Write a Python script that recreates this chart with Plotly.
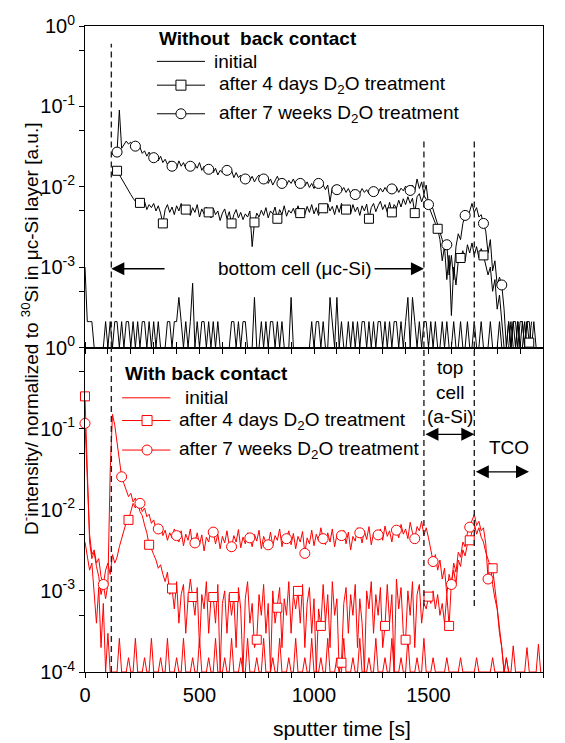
import plotly.graph_objects as go

# ---------------- data (sputter time grid, 10 s) ----------------
time_s = list(range(0, 2001, 10))

# Top panel: without back contact
top_initial = [
    1e-3, 2.1e-4, 2.1e-4, 2.1e-4, 1e-4, 1e-4, 1e-4, 1e-4, 1e-4, 2.1e-4,
    1e-4, 2.1e-4, 1e-4, 2.1e-4, 2.1e-4, 1e-4, 2.1e-4, 1e-4, 2.1e-4, 2.1e-4,
    1e-4, 2.1e-4, 1e-4, 2.1e-4, 1e-4, 2.1e-4, 2.1e-4, 1e-4, 2.1e-4, 1e-4,
    2.1e-4, 1e-4, 2.1e-4, 1e-4, 1e-4, 1e-4, 2.1e-4, 2.1e-4, 1e-4, 2.1e-4,
    2.1e-4, 4.2e-4, 2.1e-4, 1e-4, 2.1e-4, 1e-4, 2.1e-4, 6.3e-4, 1e-4, 2.1e-4,
    1e-4, 2.1e-4, 2.1e-4, 1e-4, 2.1e-4, 1e-4, 2.1e-4, 1e-4, 2.1e-4, 1e-4,
    1e-4, 1e-4, 1e-4, 1e-4, 2.1e-4, 2.1e-4, 1e-4, 2.1e-4, 1e-4, 2.1e-4,
    2.1e-4, 1e-4, 1e-4, 1e-4, 4.2e-4, 1e-4, 1e-4, 2.1e-4, 1e-4, 2.1e-4,
    1e-4, 2.1e-4, 2.1e-4, 1e-4, 2.1e-4, 1e-4, 2.1e-4, 1e-4, 1e-4, 1e-4,
    4.2e-4, 1e-4, 1e-4, 1e-4, 1e-4, 1e-4, 1e-4, 1e-4, 1e-4, 2.1e-4,
    1e-4, 2.1e-4, 2.1e-4, 1e-4, 2.1e-4, 1e-4, 1e-4, 4.2e-4, 2.1e-4, 1e-4,
    4.2e-4, 1e-4, 2.1e-4, 1e-4, 1e-4, 2.1e-4, 1e-4, 2.1e-4, 1e-4, 2.1e-4,
    1e-4, 2.1e-4, 2.1e-4, 1e-4, 2.1e-4, 1e-4, 2.1e-4, 1e-4, 2.1e-4, 2.1e-4,
    1e-4, 2.1e-4, 1e-4, 2.1e-4, 1e-4, 2.1e-4, 2.1e-4, 1e-4, 2.1e-4, 1e-4,
    2.1e-4, 4.2e-4, 1e-4, 4.2e-4, 2.1e-4, 1e-4, 2.1e-4, 1e-4, 2.1e-4, 2.1e-4,
    1e-4, 2.1e-4, 1e-4, 2.1e-4, 1e-4, 1e-4, 2.1e-4, 1e-4, 2.1e-4, 1e-4,
    1e-4, 2.1e-4, 1e-4, 1e-4, 2.1e-4, 1e-4, 1e-4, 2.1e-4, 1e-4, 1e-4,
    2.1e-4, 1e-4, 1e-4, 2.1e-4, 1e-4, 1e-4, 1e-4, 2.1e-4, 1e-4, 1e-4,
    1e-4, 2.1e-4, 1e-4, 1e-4, 1e-4, 2.1e-4, 1e-4, 2.1e-4, 2.1e-4, 1e-4,
    2.1e-4, 2.1e-4, 1e-4, 2.1e-4, 2.1e-4, 1e-4, 2.1e-4, 1e-4, 1e-4, None,
    None,
]

top_4days = [
    None, None, None, None, None, None, None, None, None, None,
    None, None, None, None, 0.0158, 0.0140, 0.0125, 0.0112, 0.0098, 0.0088,
    0.0080, 0.0072, 0.0066, 0.0070, 0.0063, 0.0058, 0.0066, 0.0052, 0.0060, 0.0055,
    0.0062, 0.0050, 0.0058, 0.0047, 0.0035, 0.0052, 0.0060, 0.0048, 0.0056, 0.0045,
    0.0058, 0.0050, 0.0062, 0.0046, 0.0052, 0.0057, 0.0044, 0.0055, 0.0048, 0.0060,
    0.0042, 0.0053, 0.0046, 0.0056, 0.0048, 0.0041, 0.0054, 0.0045, 0.0050, 0.0038,
    0.0047, 0.0053, 0.0040, 0.0049, 0.0035, 0.0045, 0.0052, 0.0041, 0.0048, 0.0039,
    0.0046, 0.0042, 0.0050, 0.0018, 0.0036, 0.0047, 0.0042, 0.0051, 0.0044, 0.0055,
    0.0041, 0.0050, 0.0046, 0.0056, 0.0040, 0.0052, 0.0045, 0.0058, 0.0043, 0.0051,
    0.0047, 0.0054, 0.0044, 0.0058, 0.0047, 0.0052, 0.0045, 0.0057, 0.0048, 0.0060,
    0.0046, 0.0055, 0.0044, 0.0058, 0.0054, 0.0047, 0.0061, 0.0050, 0.0057, 0.0045,
    0.0059, 0.0048, 0.0062, 0.0051, 0.0052, 0.0058, 0.0046, 0.0060, 0.0049, 0.0056,
    0.0044, 0.0058, 0.0050, 0.0061, 0.0040, 0.0055, 0.0062, 0.0049, 0.0058, 0.0066,
    0.0052, 0.0060, 0.0048, 0.0064, 0.0048, 0.0060, 0.0054, 0.0068, 0.0056, 0.0071,
    0.0060, 0.0075, 0.0062, 0.0072, 0.0047, 0.0075, 0.0082, 0.0065, 0.0078, 0.0070,
    0.0058, 0.0048, 0.0042, 0.0035, 0.0030, 0.0022, 0.0012, 0.0018, 0.0007, 0.0014,
    0.00025, 0.0010, 0.0006, 0.0012, 0.0013, 0.0016, 0.0012, 0.0019, 0.0015, 0.0020,
    0.0014, 0.0018, 0.0013, 0.0017, 0.0014, 0.0011, 0.0008, 0.0010, 0.0005, 0.0007,
    0.0003, 0.00045, 0.0002, 0.0001, 0.0001, 0.00021, 0.0001, 0.00021, 0.0001, 0.00021,
    0.0001, 0.00021, 0.0001, 0.00021, 0.000115, 0.00021, None, None, None, None,
    None,
]

top_7weeks = [
    None, None, None, None, None, None, None, None, None, None,
    None, None, 0.025, 0.028, 0.027, 0.09, 0.030, 0.033, 0.037, 0.034,
    0.036, 0.031, 0.032, 0.029, 0.031, 0.026, 0.028, 0.024, 0.027, 0.023,
    0.023, 0.025, 0.021, 0.024, 0.020, 0.022, 0.019, 0.021, 0.018, 0.020,
    0.017, 0.021, 0.018, 0.020, 0.017, 0.019, 0.018, 0.016, 0.019, 0.017,
    0.020, 0.016, 0.018, 0.015, 0.0165, 0.018, 0.015, 0.017, 0.014, 0.016,
    0.015, 0.017, 0.016, 0.014, 0.016, 0.013, 0.015, 0.013, 0.014, 0.012,
    0.0125, 0.014, 0.012, 0.0135, 0.0115, 0.013, 0.014, 0.0115, 0.0125, 0.013,
    0.011, 0.0125, 0.0105, 0.012, 0.0135, 0.0115, 0.011, 0.0125, 0.0105, 0.012,
    0.011, 0.0125, 0.0105, 0.012, 0.011, 0.0118, 0.0102, 0.0115, 0.0098, 0.011,
    0.0095, 0.0108, 0.011, 0.0098, 0.0105, 0.0092, 0.0105, 0.0065, 0.0098, 0.0105,
    0.0092, 0.0102, 0.0088, 0.0098, 0.0085, 0.0095, 0.0082, 0.0092, 0.0080, 0.0090,
    0.0083, 0.0095, 0.0085, 0.0092, 0.0082, 0.0094, 0.0087, 0.0093, 0.0084, 0.0096,
    0.0086, 0.0098, 0.0088, 0.0095, 0.0094, 0.0088, 0.0099, 0.0085, 0.0096, 0.0089,
    0.0102, 0.0092, 0.0090, 0.0105, 0.0088, 0.0125, 0.0095, 0.0115, 0.0082, 0.0105,
    0.0060, 0.0065, 0.0052, 0.0042, 0.0033, 0.0028, 0.0022, 0.0016, 0.0019, 0.0008,
    0.0014, 0.0007, 0.0018, 0.0026, 0.0022, 0.0035, 0.0044, 0.0040, 0.0052, 0.0062,
    0.0048, 0.0055, 0.0042, 0.0045, 0.0035, 0.0028, 0.0015, 0.0022, 0.0009, 0.0012,
    0.0006, 0.00075, 0.0006, 0.0003, 0.0001, 0.0001, 0.00021, 0.0001, 0.0001, 0.00021,
    0.0001, 0.0001, 0.00021, 0.0001, 0.0001, None, None, None, None, None,
    None,
]

# Bottom panel: with back contact
bot_initial = [
    0.004, 0.0025, 0.0018, 0.0022, 0.0009, 0.0004, 0.0011, 0.0002, 0.0007, 1e-4,
    3e-4, 1e-4, 1e-4, 1e-4, 1e-4, 2.6e-4, 1e-4, 1e-4, 1e-4, 1.5e-4,
    1e-4, 1e-4, 2.6e-4, 1e-4, 1e-4, 1e-4, 1.5e-4, 1e-4, 1e-4, 2.6e-4,
    1e-4, 1e-4, 1e-4, 1.5e-4, 1e-4, 1e-4, 2.6e-4, 1e-4, 1e-4, 1e-4,
    1.5e-4, 1e-4, 1e-4, 2.6e-4, 1e-4, 1e-4, 1e-4, 1.5e-4, 1e-4, 1e-4,
    2.6e-4, 1e-4, 1e-4, 1e-4, 1.5e-4, 1e-4, 1e-4, 2.6e-4, 1e-4, 1e-4,
    1e-4, 1.5e-4, 1e-4, 1e-4, 2.6e-4, 1e-4, 1e-4, 1e-4, 1.5e-4, 1e-4,
    1e-4, 2.6e-4, 1e-4, 1e-4, 1e-4, 1.5e-4, 1e-4, 1e-4, 2.6e-4, 1e-4,
    1e-4, 1e-4, 1.5e-4, 1e-4, 1e-4, 2.6e-4, 1e-4, 1e-4, 1e-4, 1.5e-4,
    1e-4, 1e-4, 2.6e-4, 1e-4, 1e-4, 1e-4, 1.5e-4, 1e-4, 1e-4, 2.6e-4,
    1e-4, 1e-4, 1e-4, 1.5e-4, 1e-4, 1e-4, 2.6e-4, 1e-4, 1e-4, 1e-4,
    1.5e-4, 1e-4, 1e-4, 2.6e-4, 1e-4, 1e-4, 1e-4, 1.5e-4, 1e-4, 1e-4,
    2.6e-4, 1e-4, 1e-4, 1e-4, 1.5e-4, 1e-4, 1e-4, 2.6e-4, 1e-4, 1e-4,
    1e-4, 1.5e-4, 1e-4, 1e-4, 2.6e-4, 1e-4, 1e-4, 1e-4, 1.5e-4, 1e-4,
    1e-4, 2.6e-4, 1e-4, 1e-4, 1e-4, 1.5e-4, 1e-4, 1e-4, 2.6e-4, 1e-4,
    1e-4, 1e-4, 1.5e-4, 1e-4, 1e-4, 1e-4, 1e-4, 1e-4, 1.5e-4, 1e-4,
    1e-4, 1e-4, 1e-4, 1e-4, 1.5e-4, 1e-4, 1e-4, 1e-4, 1e-4, 1e-4,
    1e-4, 1.5e-4, 1e-4, 1e-4, 1e-4, 1e-4, 1e-4, 1e-4, 1.5e-4, 1e-4,
    1e-4, 1e-4, 1e-4, 1e-4, 1e-4, 1e-4, 1e-4, 2.1e-4, 1e-4, 1e-4,
    1e-4, 1e-4, 1e-4, 2e-4, 1e-4, 1e-4, 1e-4, 1e-4, 2.2e-4, 1e-4,
    None,
]

bot_4days = [
    0.25, 0.03, 0.004, 0.0025, 0.003, 0.002, 0.0015, 0.0009, 0.0012, 0.0018,
    0.0022, 0.0016, 0.0028, 0.0022, 0.0026, 0.0035, 0.0045, 0.0058, 0.0070, 0.0075,
    0.0095, 0.012, 0.0105, 0.0125, 0.0095, 0.0085, 0.0065, 0.0052, 0.0037, 0.0033,
    0.0028, 0.0024, 0.0019, 0.0021, 0.0016, 0.0013, 0.0017, 0.0009, 0.00107, 0.0006,
    0.0013, 0.0004, 0.0009, 0.0012, 0.0003, 0.0008, 0.0014, 0.00084, 0.0005, 0.0011,
    0.0002, 0.0009, 0.0006, 0.0013, 0.0003, 0.0008, 0.00084, 0.0004, 0.0012, 0.0001,
    0.0007, 0.0010, 0.0003, 0.0009, 0.0005, 0.00084, 0.0002, 0.0011, 0.0006, 0.0001,
    0.0008, 0.0013, 0.0004, 0.0007, 0.0002, 0.00025, 0.0009, 0.0005, 0.0012, 0.0003,
    0.0007, 0.0001, 0.0010, 0.0004, 0.00062, 0.0011, 0.0002, 0.0008, 0.0005, 0.0013,
    0.0003, 0.0009, 0.0006, 0.0010, 0.0004, 0.0012, 0.0002, 0.0007, 0.0011, 0.0003,
    0.0008, 0.0001, 0.0006, 0.00037, 0.0012, 0.0004, 0.0009, 0.0002, 0.0013, 0.0005,
    0.0008, 0.0001, 0.00013, 0.0007, 0.0011, 0.0003, 0.0009, 0.0005, 0.0012, 0.0002,
    0.0008, 0.0004, 0.0001, 0.0010, 0.0006, 0.0013, 0.0003, 0.0009, 0.0005, 0.0011,
    0.0002, 0.00037, 0.0012, 0.0004, 0.0009, 0.0001, 0.0014, 0.0006, 0.0011, 0.0003,
    0.00025, 0.0010, 0.0005, 0.0013, 0.0002, 0.0009, 0.0012, 0.0004, 0.0007, 0.0006,
    0.00085, 0.0007, 0.0010, 0.0006, 0.0009, 0.0005, 0.0007, 0.0004, 0.0009, 0.00037,
    0.0013, 0.0018, 0.0012, 0.0024, 0.0020, 0.0032, 0.0027, 0.0038, 0.0042, 0.0055,
    0.0068, 0.0050, 0.0060, 0.0046, 0.0040, 0.0030, 0.0024, 0.0020, 0.0019, 0.0011,
    0.0007, 0.0004, 0.0002, 0.0001, 0.00015, 0.0001, None, None, None, None,
    None, None, None, None, None, None, None, None, None, None,
    None,
]

bot_7weeks = [
    0.116, 0.02, 0.005, 0.0028, 0.0032, 0.0022, 0.0025, 0.0015, 0.0012, 0.0008,
    0.0012, 0.03, 0.15, 0.11, 0.07, 0.04, 0.0255, 0.021, 0.017, 0.0145,
    0.016, 0.0125, 0.014, 0.0115, 0.012, 0.0095, 0.0105, 0.0082, 0.0088, 0.0068,
    0.0075, 0.0058, 0.0058, 0.0065, 0.0048, 0.0056, 0.0042, 0.0052, 0.0045, 0.0058,
    0.0048, 0.0040, 0.0055, 0.0036, 0.0050, 0.0042, 0.0058, 0.0035, 0.0039, 0.0052,
    0.0037, 0.0049, 0.0031, 0.0046, 0.0040, 0.0056, 0.0053, 0.0038, 0.0050, 0.0033,
    0.0047, 0.0039, 0.0055, 0.0036, 0.0035, 0.0048, 0.0040, 0.0057, 0.0034, 0.0046,
    0.0038, 0.0052, 0.0045, 0.0035, 0.0050, 0.0041, 0.0056, 0.0033, 0.0047, 0.0039,
    0.0037, 0.0053, 0.0036, 0.0048, 0.0042, 0.0058, 0.0035, 0.0049, 0.0044, 0.0055,
    0.0037, 0.0051, 0.0033, 0.0047, 0.0040, 0.0054, 0.0029, 0.0045, 0.0038, 0.0056,
    0.0036, 0.0050, 0.0041, 0.0060, 0.0044, 0.0037, 0.0052, 0.0040, 0.0058, 0.0035,
    0.0049, 0.0043, 0.0048, 0.0056, 0.0038, 0.0053, 0.0032, 0.0047, 0.0041, 0.0060,
    0.0052, 0.0039, 0.0055, 0.0043, 0.0062, 0.0037, 0.0051, 0.0045, 0.0049, 0.0058,
    0.0042, 0.0063, 0.0047, 0.0055, 0.0040, 0.0060, 0.0056, 0.0045, 0.0066, 0.0050,
    0.0058, 0.0044, 0.0070, 0.0052, 0.0044, 0.0062, 0.0055, 0.0072, 0.0048, 0.0060,
    0.0045, 0.0032, 0.0023, 0.0028, 0.0018, 0.0024, 0.0014, 0.0019, 0.0009, 0.0016,
    0.0012, 0.0022, 0.0017, 0.0030, 0.0026, 0.0040, 0.0035, 0.0052, 0.0061, 0.0072,
    0.0088, 0.0064, 0.0072, 0.0055, 0.0060, 0.0038, 0.0014, 0.0022, 0.0012, 0.0008,
    0.0006, 0.0003, 0.0002, 0.0001, 0.00015, 0.0001, None, None, None, None,
    None, None, None, None, None, None, None, None, None, None,
    None,
]

# times at which the symbols are drawn
top_square_times = [140, 240, 340, 440, 540, 640, 740, 840, 940, 1040, 1140,
                    1240, 1340, 1440, 1540, 1640, 1740, 1940]
top_circle_times = [140, 220, 300, 380, 460, 540, 620, 700, 780, 860, 940,
                    1020, 1100, 1180, 1260, 1340, 1420, 1500, 1580, 1660,
                    1740, 1820]
bot_square_times = [0, 190, 280, 380, 470, 560, 650, 750, 840, 930, 1030,
                    1120, 1310, 1400, 1500, 1590, 1680, 1780]
bot_circle_times = [0, 80, 160, 240, 320, 400, 480, 560, 640, 720, 800, 880,
                    960, 1040, 1120, 1200, 1280, 1360, 1440, 1520, 1600,
                    1680, 1760]

# layer interfaces (s)
interface_times = [115, 1480, 1700]

x_tickvals = [0, 500, 1000, 1500, 2000]
bot_y_tickvals = [1e-4, 1e-3, 1e-2, 1e-1, 1]
bot_y_ticktext = ["10<sup>-4</sup>", "10<sup>-3</sup>", "10<sup>-2</sup>",
                  "10<sup>-1</sup>", "10<sup>0</sup>"]
top_y_tickvals = [1e-3, 1e-2, 1e-1, 1]
top_y_ticktext = ["10<sup>-3</sup>", "10<sup>-2</sup>", "10<sup>-1</sup>",
                  "10<sup>0</sup>"]
minor_y_tickvals = [5e-4, 5e-3, 5e-2, 0.5]

label_initial = "initial"
label_4days = "after 4 days D<sub>2</sub>O treatment"
label_7weeks = "after 7 weeks D<sub>2</sub>O treatment"

# ---------------- figure ----------------
BLACK = "#000000"
RED = "#ff0000"
FONT = "Liberation Sans, Arial, sans-serif"


def pick(series, times):
    return times, [series[time_s.index(t)] for t in times]


fig = go.Figure()


def add_panel(xa, ya, color, s_init, s_4d, s_7w, sq_t, ci_t):
    for s in (s_init, s_4d, s_7w):
        fig.add_trace(go.Scatter(x=time_s, y=s, mode="lines", xaxis=xa, yaxis=ya,
                                 line=dict(color=color, width=1),
                                 hoverinfo="skip", showlegend=False))
    sx, sy = pick(s_4d, sq_t)
    fig.add_trace(go.Scatter(x=sx, y=sy, mode="markers", xaxis=xa, yaxis=ya,
                             marker=dict(symbol="square", size=9, color="white",
                                         line=dict(color=color, width=1)),
                             cliponaxis=False, showlegend=False))
    cx, cy = pick(s_7w, ci_t)
    fig.add_trace(go.Scatter(x=cx, y=cy, mode="markers", xaxis=xa, yaxis=ya,
                             marker=dict(symbol="circle", size=10, color="white",
                                         line=dict(color=color, width=1)),
                             cliponaxis=False, showlegend=False))


add_panel("x2", "y2", BLACK, top_initial, top_4days, top_7weeks,
          top_square_times, top_circle_times)
add_panel("x", "y", RED, bot_initial, bot_4days, bot_7weeks,
          bot_square_times, bot_circle_times)

split = 329 / 655

axis_common = dict(showline=True, linecolor=BLACK, linewidth=1, showgrid=False,
                   zeroline=False, ticks="outside", ticklen=5, tickwidth=1,
                   tickcolor=BLACK, tickfont=dict(size=20, family=FONT, color=BLACK))

fig.update_layout(
    width=565, height=743,
    margin=dict(l=85, r=22, t=17, b=71),
    paper_bgcolor="white", plot_bgcolor="white",
    showlegend=False,
    font=dict(family=FONT, size=19, color=BLACK),
    xaxis=dict(domain=[0, 1], anchor="y", range=[0, 2000], tickvals=x_tickvals,
               mirror="ticks",
               minor=dict(dtick=100, tick0=0, ticks="outside", ticklen=5,
                          tickcolor=BLACK, showgrid=False),
               **axis_common),
    xaxis2=dict(domain=[0, 1], anchor="y2", range=[0, 2000], matches="x",
                tickvals=x_tickvals, showticklabels=False, mirror=True,
                minor=dict(dtick=100, tick0=0, ticks="outside", ticklen=5,
                           tickcolor=BLACK, showgrid=False),
                **axis_common),
    yaxis=dict(domain=[0, split], anchor="x", type="log", range=[-4, 0],
               tickvals=bot_y_tickvals, ticktext=bot_y_ticktext, mirror=True,
               minor=dict(tickvals=minor_y_tickvals, ticks="outside", ticklen=5,
                          tickcolor=BLACK, showgrid=False),
               **axis_common),
    yaxis2=dict(domain=[split, 1], anchor="x2", type="log", range=[-4, 0],
                tickvals=top_y_tickvals, ticktext=top_y_ticktext, mirror=True,
                minor=dict(tickvals=minor_y_tickvals, ticks="outside", ticklen=5,
                           tickcolor=BLACK, showgrid=False),
                **axis_common),
)

# dashed interface lines
dash_style = dict(color="#222222", width=1.4, dash="6px,4px")
top_line_tops = [0.6, 0.041, 0.041]
bot_line_bottoms = [1e-4, 6.5e-4, 6.5e-4]
for t, ytop, ybot in zip(interface_times, top_line_tops, bot_line_bottoms):
    fig.add_shape(type="line", xref="x2", yref="y2", x0=t, x1=t, y0=1e-4, y1=ytop,
                  line=dash_style)
    fig.add_shape(type="line", xref="x", yref="y", x0=t, x1=t, y0=ybot, y1=1,
                  line=dash_style)


def legend_block(xref, yref, color, header, hx, hy, rows, line_x0, line_x1, mark_x):
    fig.add_annotation(xref=xref, yref=yref, x=hx, y=hy, text="<b>" + header + "</b>",
                       showarrow=False, xanchor="left", yanchor="middle",
                       font=dict(size=19, color=BLACK))
    for sym, text, tx, ry in rows:
        fig.add_shape(type="line", xref=xref, yref=yref, x0=line_x0, x1=line_x1,
                      y0=ry, y1=ry, line=dict(color=color, width=1))
        if sym is not None:
            fig.add_shape(type=sym, xref=xref, yref=yref, xsizemode="pixel",
                          ysizemode="pixel", xanchor=mark_x, yanchor=ry,
                          x0=-5, x1=5, y0=-5, y1=5, fillcolor="white",
                          line=dict(color=color, width=1))
        fig.add_annotation(xref=xref, yref=yref, x=tx, y=ry, text=text,
                           showarrow=False, xanchor="left", yanchor="middle",
                           font=dict(size=19, color=BLACK))


legend_block("x2", "y2 domain", BLACK, "Without\u00a0 back contact", 314, 0.960,
             [(None, label_initial, 555, 0.890),
              ("rect", label_4days, 576, 0.816),
              ("circle", label_7weeks, 576, 0.727)],
             314, 524, 419)
legend_block("x", "y domain", RED, "With back contact", 166, 0.921,
             [(None, label_initial, 428, 0.845),
              ("rect", label_4days, 402, 0.775),
              ("circle", label_7weeks, 402, 0.684)],
             162, 373, 271)


def arrow(xref, yref, x_head, x_tail, y, both=False):
    fig.add_annotation(xref=xref, yref=yref, x=x_head, y=y, axref=xref, ax=x_tail,
                       ayref="pixel", ay=0, text="", showarrow=True,
                       arrowhead=2, arrowsize=2.0, arrowwidth=1.3,
                       arrowcolor=BLACK, arrowside="end+start" if both else "end",
                       startarrowhead=2, startarrowsize=2.0)


# top panel region label
fig.add_annotation(xref="x2", yref="y2 domain", x=917, y=0.245,
                   text="bottom cell (\u03bcc-Si)", showarrow=False,
                   xanchor="center", yanchor="middle", font=dict(size=19))
arrow("x2", "y2 domain", 115, 354, 0.245)
arrow("x2", "y2 domain", 1480, 1258, 0.245)

# bottom panel region labels
fig.add_annotation(xref="x", yref="y domain", x=1594, y=0.863,
                   text="top<br>cell<br>(a-Si)", showarrow=False,
                   xanchor="center", yanchor="middle", font=dict(size=19))
arrow("x", "y domain", 1700, 1480, 0.7325, both=True)
fig.add_annotation(xref="x", yref="y domain", x=1852, y=0.693, text="TCO",
                   showarrow=False, xanchor="center", yanchor="middle",
                   font=dict(size=19))
arrow("x", "y domain", 1939, 1700, 0.617, both=True)

# axis titles
fig.add_annotation(xref="x", yref="paper", x=1122, y=-0.087,
                   text="sputter time [s]", showarrow=False,
                   xanchor="center", yanchor="middle", font=dict(size=21))
fig.add_annotation(xref="paper", yref="paper", x=-0.12, y=0.531,
                   text="D<sup>-</sup>intensity/ normalized to <sup>30</sup>Si in \u03bcc-Si layer [a.u.]",
                   textangle=-90, showarrow=False, xanchor="center",
                   yanchor="middle", font=dict(size=19))

fig.write_html("out.html")
